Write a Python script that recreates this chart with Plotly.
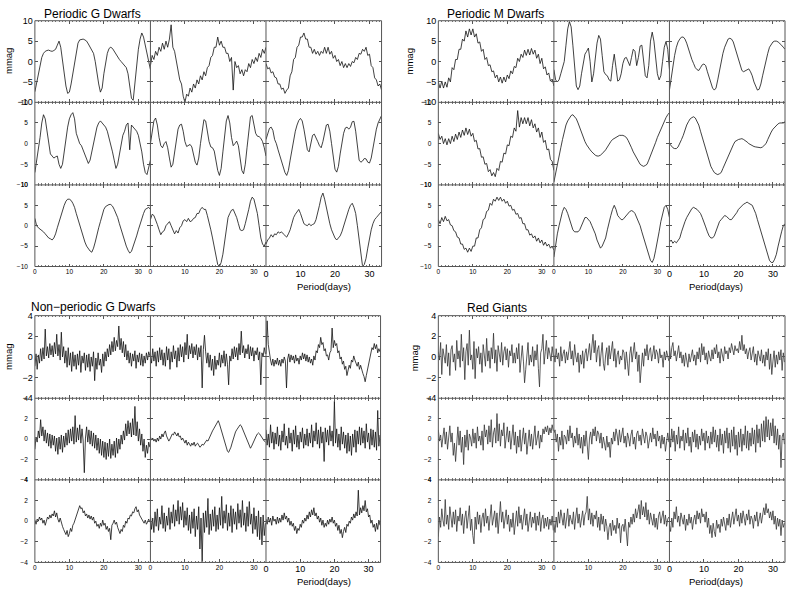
import numpy as np
import plotly.graph_objects as go

W, H = 788, 593

# ---------------- data (mmag), periodic panels sampled every 0.5 day ----------------
STEP_P = 0.5
G11 = [-7.4,-5.5,-3,-1,1,2,2.5,2.7,2.8,2.6,2.5,2.7,3,4,5,3.5,0,-3,-6,-7.8,-7.5,-5.5,-3,0,3,4.5,5.3,5.5,5.5,5.3,5,4.3,3.5,3,2,0,-3,-5.5,-7.5,-6.5,-3,0,2,3.2,3.5,3.2,2.5,1.8,1,0.5,0,-0.5,-1,-1.5,-3,-6,-9,-9.5,-5,-1,3,5.5,7,6,4,2,0,-2]
G12 = [-1,1.5,0.5,2.5,1.5,3.5,2.5,4.5,3,5,3.5,5.5,9,3.5,2.5,0,-1.5,-4.5,-5.5,-8.5,-10,-8,-8.5,-6.5,-7.5,-5.5,-6.5,-4.5,-5.5,-3.5,-4.5,-2.5,-3.5,-1.5,-1,1,1.5,3.5,3.5,6,4,5,3.5,3.5,2,2,0,1,-7,0,-1.5,-1,-3,-2,-3.5,-2,-2.5,-0.5,-1.5,0.5,-0.5,1,0,2,1,3,2,3.5]
G13 = [-0.5,-1.8,-1.5,-2.8,-2.5,-3.8,-4,-5.5,-5.5,-6.8,-6.5,-7.8,-7,-6.5,-3.5,-2.5,0.5,1,3.5,4,6,6,7,5.5,5.5,3.5,3.5,2,3,1.8,2.5,1.5,2.5,2,3.5,2,3.5,1.8,2.5,0.8,1.5,0,0.5,-1,0,-1.5,-0.5,-1.5,-0.5,-1.2,0,-0.3,1,0.5,2,1.8,3,2.5,3.5,1.5,1.8,-1,-1.5,-4,-4.5,-6,-5.5,-7]
G21 = [-7,-4.5,-2,1.5,5,7,6,3,0,-2.5,-3,-3.5,-3.2,-3,-5,-6,-5,-1.5,2,4,6,7,7.5,6,2.5,1,0,-0.5,-1.5,-2.5,-3.5,-4.8,-4,-2,0,2,4,5,5.5,5,4.5,4,3,1.5,0,-2,-4,-6,-5,-2.5,0,2,3,4.5,5,-1.5,4.5,4,3.5,3,2,0,-2,-5,-7,-7.5,-6,-4]
G22 = [0,3,5.5,6.2,4.5,1.5,-0.5,-1,0,0.5,-1,-3.5,-5.7,-5,-2,1,3.5,4.5,4.7,3,0.5,-0.7,-0.5,-0.2,-0.8,-2.5,-4.5,-5.2,-3.5,0,3.5,5.8,5.5,3,0.5,-0.8,-1,-1.8,-4,-6.5,-7.7,-6,-2,2,5.5,6.8,5,1.5,-0.5,0,0.6,-0.5,-3.5,-6.5,-7.3,-5,-1,3.5,6.5,6.8,5,2.5,1.8,1.7,1.3,0.5,-1,-3]
G23 = [1,2.5,3.7,4,3.2,1,0,-1.5,-3,-4,-5.5,-7,-7.7,-6.5,-4,-1.5,1,3,4.5,5.6,6.1,5.5,3.5,1,-1.5,-2,0,2,2.3,1.5,0.5,-0.5,-1,0.5,3,4.5,4.7,3,0,-3.5,-6.2,-6.9,-5.5,-2.5,0.5,2.5,3.8,4,3.5,4,5.3,5.4,3,-1,-4,-4.5,-4.2,-3.6,-3.7,-4.5,-4.7,-3.5,-1,1.5,3.5,5,6,6.8]
G31 = [1.8,0,-0.5,-0.8,-1,-1.5,-2,-2.5,-3,-3.2,-3.5,-3,-2,-0.5,1,2.5,4,5,6,6.5,6.5,6.2,5.5,4.5,3,1.5,0,-1.5,-3,-4,-5,-5.7,-6.2,-6.5,-5.5,-4,-2,-0.5,1,2.5,4,4.7,5,5.2,5.2,4.8,4,3,2,0.5,-1,-2.5,-4,-5,-6,-6.7,-6.3,-5.2,-4,-2.5,-1,0.5,2,3,4,4.3,4.5,4]
G32 = [1.5,2.8,2.5,1.5,0.3,-1,-2.2,-1.5,-1.2,0,0.5,1,0,-1,-2,-1.2,-1.8,-0.5,0,1.2,1.5,1,1.8,1,1.2,1.8,2,3,3,4,4.5,4,4,2.5,1,-1,-3,-5.5,-8,-9.5,-10,-9,-7,-3.5,0,2,3,3.8,4,3,2,0.5,-1,-1.2,-1,0.5,2,4,6,7,6.5,5,3,0,-3,-4.5,-5,-4]
G33 = [-4.5,-3.5,-3,-2.2,-2.8,-2,-2.2,-1.5,-1.8,-1.5,-2,-2.5,-2.8,-2,-1,0.5,2,2.8,3.5,4,3,1.5,0.5,0.2,0,0.5,0,0.3,0.5,1.5,3,5,7,8,6.5,4.5,2,0.5,-1,-2,-3,-3.5,-3,-2.5,-1.5,0,1,2.5,4,5,5.5,4.5,3,0,-3,-6.5,-10,-9.5,-8,-5.5,-3,-1,0.5,1.5,2,2.5,3,3.5]

M11 = [-5,-6.5,-4.8,-6.5,-5,-6.3,-4,-5,-1.5,-2,0.5,0.5,3,3,5.5,5,7.5,6,8,6.5,8,6,6.8,4.5,4.8,2.5,3,0.5,1,-1,-0.8,-2.5,-2.3,-4,-3.3,-5,-3.8,-5.3,-3.8,-5,-3.3,-4.2,-2.3,-3,-1.2,-1.5,0.8,0,1.8,1,2.8,1.5,3,1.6,3.2,1.8,2.8,0.8,1.8,-0.5,0.8,-1.8,-1.3,-3.3,-2.8,-4.8,-4.3,-6]
M12 = [-2,-4.5,-5,-4.5,-3,-1.5,0,4,8,9.8,8.5,4,-2,-6,-6.9,-6,-3,0,1.8,2.5,3.3,0,-5,-3,1,4.5,6.4,5.5,1.5,-2.5,-3.2,-3.5,-4.5,-4.8,-1,1.8,-1.5,-4.8,-4.5,-3,-0.5,0.8,1,0,-1,1,3,2.5,-1,1,3.8,4,0.5,-3.5,-4,-1,5,7.2,5,0.5,-3,-4.5,-3.5,0,3.5,4.9,3,-2]
M13 = [-7,-4,-1,1.5,3.5,4.8,5.5,6,6,5.5,4.5,3,1.5,0.5,-0.5,-1.5,-2,-2.2,-1.5,-0.8,-0.6,-1,-2.5,-4,-5.5,-6.5,-7,-6.5,-4.5,-2,0,2,3.5,4.8,5.5,5.7,5.5,4.8,3.5,2,0.5,-1,-2.2,-2.5,-2.2,-2,-1.8,-2.5,-3.5,-5,-6.3,-7,-6.8,-5.5,-3.5,-1.5,0.5,2,3.5,4.3,4.8,5,5,4.8,4.5,4,3.5,3]
M21 = [2.5,1,1.8,0,1.2,-0.3,1.2,0,1.8,0.5,2.3,1,2.8,1.5,3.3,2,3.8,2.2,3.5,1.8,2.5,0.5,0.8,-1.3,-1.2,-3.3,-3.2,-5,-4.8,-6.8,-6.3,-7.8,-7,-8,-6,-6.5,-4.3,-4.5,-2.3,-2.5,-0.3,-0.5,1.8,1.5,3.8,3,8,4,6.3,4.8,6.3,4.8,6.3,4.3,5.8,3.8,4.8,2.8,3.8,1.5,2.8,0.3,0.8,-1.5,-1.3,-3.8,-4.3,-6.5]
M22 = [-9.3,-7,-5,-3,-1,1,3,4.5,5.5,6.3,6.8,7,6.5,6,5,3.8,2.5,1.5,0.5,-0.3,-1,-1.5,-2,-2.5,-2.8,-3,-3,-2.8,-2.5,-2,-1.5,-0.8,0,0.5,1,1.3,1.5,1.8,2,2,2,1.8,1.5,0.8,0,-1,-2,-2.8,-3.5,-4.3,-5,-5.3,-5.5,-5.3,-5,-4,-3,-2,-1,0.3,1.5,2.5,3.5,4.5,5.5,6.3,7,7.5]
M23 = [0,-0.5,-1,-1.2,-1.2,-0.8,0,1,2,3.3,4.5,5.3,6,6.3,6.5,6.2,5.5,4.5,3,1.5,0,-1.5,-3,-4.3,-5.5,-6.3,-7,-7.3,-7.5,-7.3,-7,-6,-5,-4,-3,-2,-1,-0.3,0.5,0.8,1,1.1,1.2,1,0.8,0.4,0,-0.3,-0.5,-0.7,-0.8,-0.9,-1,-1,-0.8,-0.5,0,1,2,2.8,3.5,4,4.5,4.8,5,5,5,5.3]
M31 = [1.5,0.5,2,1,2.3,1.2,1.5,0.2,0,-1.2,-1.5,-2.8,-3,-4.5,-4.5,-5.8,-5.5,-6.5,-5.5,-6.3,-5,-5,-3,-3,-1,-0.5,1.5,1.8,3.5,3.8,5.5,5,6.5,6,7,6.2,7,6,6.5,5.5,6,4.8,5,3.8,4,2.8,3,1.8,2,0.5,0.5,-1,-1,-2.3,-2,-3,-2.5,-3.8,-3,-4.2,-3.5,-4.8,-4,-5,-4.5,-5.5,-5,-6]
M32 = [-7.7,-4.5,-2,0,2,3.5,4.5,4,3,1.5,0,-1,-1.5,-1.5,-1.5,-1,0,1,2,2,1.5,1,0,-1,-2,-3.5,-4.5,-5.5,-5,-4,-3,-1,1,2.5,4,5,4,2.5,2,1.5,1.5,2,2.5,3,3.5,3.7,3.5,3,2,1,0,-1.5,-3,-4.5,-6,-7.5,-8.5,-9,-8,-6,-4,-1.5,1,3,4.5,5,4,2]
M33 = [-4,-3.5,-4.3,-3.8,-4.2,-3.5,-3,-1.5,0,1,2,2.8,3.5,4.2,4.5,4.3,4,3.5,3,2,1,-0.3,-1.5,-2.5,-3,-3,-2.5,-1.2,0,1,1.5,2,2.5,2.3,2,1.5,1.5,2,2.5,3.2,4,4.5,5,5.3,5.5,5.8,5.5,5.3,5,4,3,1.5,0,-1.5,-3,-4.5,-6,-7.5,-8.5,-9,-9,-8.2,-7,-5,-3,-1.5,0,0.5]

# ---------------- noisy panels sampled every 1/3 day ----------------
STEP_N = 1.0 / 3.0
NG11 = [-0.9,0.3,-1.2,0.2,-0.6,0.8,-0.4,0.9,-0.2,2.7,0.1,1.0,-0.1,1.3,0.2,1.1,0.0,1.4,0.3,2.2,0.1,1.2,-0.3,2.4,0.0,1.0,-0.6,0.6,-1.0,0.9,-0.8,0.4,-1.4,0.5,-0.9,0.2,-1.2,0.3,-0.8,0.6,-1.5,0.1,-0.6,0.4,-1.3,0.2,-1.0,0.3,-1.4,0.0,-0.9,0.5,-2.3,-0.1,-1.2,0.4,-0.8,-0.2,-1.5,0.3,-0.9,0.5,-0.4,0.8,0.0,1.2,0.2,1.5,0.5,1.9,0.6,1.6,1.0,3.0,0.7,1.8,0.4,1.5,0.0,1.2,-0.3,0.6,-0.6,0.4,-0.9,0.3,-0.4,0.6,-1.1,0.2,-0.5,0.4,-0.8,0.3,-0.9,0.1,-0.6,0.4,-0.3,0.5,0.1]
NG12 = [0.2,-0.6,0.8,-0.4,0.5,-0.9,0.6,-0.5,0.9,-0.3,0.7,-0.8,0.4,-0.9,1.0,-0.3,0.8,-1.2,0.5,-0.5,1.1,-0.2,0.6,-1.0,0.9,-0.4,1.2,0.0,1.0,-0.5,1.4,0.2,2.2,-0.2,1.1,0.3,1.3,-0.1,1.0,0.2,1.2,-0.3,0.9,0.0,1.1,-3.0,0.7,2.1,0.5,-0.6,0.4,-1.0,0.2,-1.3,-0.2,-1.8,0.1,-1.2,-0.3,-0.8,0.4,-1.0,0.2,-0.6,0.6,-0.9,0.3,-0.7,-2.7,0.1,-0.4,0.8,-0.2,1.0,0.0,0.9,-0.3,1.3,0.2,2.5,0.4,1.1,-0.1,0.8,0.3,1.2,-0.2,1.0,0.1,0.9,-0.4,0.6,0.2,0.9,-0.3,0.5,-2.7,0.4,0.0,0.9,0.3]
NG13 = [0.3,3.5,1.2,0.2,-0.3,-0.8,-0.2,-0.9,-0.3,-0.7,-0.1,-0.8,-0.3,-0.9,-0.2,-0.6,0.0,-0.4,-3.0,-0.2,0.3,-0.5,0.2,-0.3,0.1,-0.6,0.2,-0.4,-0.1,-0.7,0.1,-0.3,0.4,-0.2,0.3,-0.4,0.2,-0.5,0.0,-0.6,-0.2,-0.8,0.1,-0.3,0.6,0.4,1.2,0.9,1.9,1.2,1.4,0.6,0.8,0.1,0.2,-0.3,0.4,0.6,2.8,0.9,1.6,1.1,1.3,0.4,0.6,-0.2,0.0,-0.7,-0.4,-1.2,-0.9,-1.8,-1.3,-0.8,-1.1,-0.3,-0.5,0.1,-0.3,-0.6,-0.9,-0.5,-1.2,-0.8,-1.3,-1.6,-1.9,-2.4,-1.8,-1.2,-0.6,0.1,0.3,0.9,0.7,1.3,0.8,1.2,0.4,0.8,0.5]
NG21 = [-1.0,0.2,-0.3,0.8,0.1,1.9,0.3,1.2,-0.2,0.9,-0.4,0.6,-0.7,0.5,-0.9,0.4,-0.6,0.3,-1.2,0.1,-1.5,0.2,-1.0,0.4,-1.3,0.3,-0.8,0.6,-0.6,0.9,-0.4,1.0,-0.2,1.2,-0.5,2.3,-0.3,1.1,-0.1,1.4,-0.4,1.0,-0.2,-3.3,0.1,1.2,-0.3,0.9,-0.5,0.8,-0.7,0.6,-0.9,0.4,-1.1,0.1,-1.4,0.0,-1.6,-0.2,-1.8,-0.3,-2.0,-0.4,-1.7,0.0,-1.9,-0.5,-1.6,-0.2,-1.8,0.1,-1.4,0.0,-1.0,0.4,-0.5,0.8,-0.1,1.5,0.3,1.8,0.5,1.6,0.2,2.0,0.4,3.2,0.3,1.7,-0.2,1.0,-0.6,0.5,-1.2,0.0,-1.8,-0.6,-1.4,-0.3,-0.8]
NG22 = [0.2,-0.1,0.1,-0.2,0.0,-0.3,0.1,-0.2,0.3,0.0,0.5,0.2,0.6,0.8,0.3,0.1,-0.2,0.0,0.3,0.5,0.4,0.7,0.5,0.3,0.6,0.2,0.3,-0.1,0.1,-0.2,-0.4,-0.1,-0.6,-0.3,-0.5,-0.7,-0.4,-0.6,-0.3,-0.7,-0.5,-0.4,-0.6,-0.8,-0.7,-0.5,-0.6,-0.4,-0.3,-0.1,-0.2,0.1,0.3,0.5,0.8,1.0,1.2,1.5,1.6,1.8,1.5,1.1,0.6,0.2,-0.2,-0.6,-0.9,-1.2,-1.3,-1.1,-0.8,-0.4,0.0,0.4,0.7,0.9,1.1,1.3,1.4,1.3,1.0,0.7,0.4,0.1,-0.2,-0.5,-0.8,-0.9,-0.7,-0.4,-0.1,0.1,0.3,0.5,0.6,0.5,0.3,0.2,0.0,-0.2,-0.3]
NG23 = [0.9,-0.6,0.5,-0.8,1.4,-0.4,0.7,-1.0,0.6,-0.5,1.2,-0.7,0.4,-1.1,0.8,-0.3,1.5,-0.6,0.3,-0.9,1.1,-0.4,0.6,-1.2,0.9,-0.5,1.3,-0.8,0.4,-1.0,0.7,-0.3,1.1,-0.9,0.5,-0.6,1.0,-0.7,0.6,-0.4,1.4,-0.8,0.8,-0.2,1.6,-0.5,0.9,-0.9,1.2,-0.4,0.7,-2.2,1.1,-0.3,0.9,-0.6,1.3,-0.2,0.8,-0.7,3.7,-0.4,1.0,-0.8,0.5,-1.1,1.2,-0.5,0.7,-0.9,0.4,-1.4,0.6,-1.2,0.3,-1.6,0.5,-0.8,0.9,-1.3,0.8,-0.5,1.2,-0.6,1.1,-0.4,0.8,-0.9,1.5,-0.3,0.6,-1.0,1.0,-0.6,0.9,-0.8,0.7,-1.1,2.8,-0.7,0.4]
NG31 = [0.1,-0.3,0.2,0.0,0.4,0.1,0.3,-0.2,0.1,-0.4,0.0,0.4,0.2,0.6,0.3,0.7,0.5,1.0,0.4,0.8,0.2,-0.1,0.3,-0.2,-0.5,-0.8,-1.0,-1.3,-0.9,-1.5,-1.2,-0.7,-1.0,-0.4,-0.2,0.1,0.4,0.9,1.1,1.5,1.2,1.3,0.8,1.0,0.5,0.7,0.3,0.6,0.2,0.5,0.1,0.4,-0.2,0.0,-0.5,-0.3,-0.7,-0.2,-0.5,0.1,-0.4,-0.2,-0.8,-0.5,-1.0,-0.7,-1.8,-0.4,-0.2,0.1,-0.3,-0.1,-0.6,-0.9,-1.2,-0.8,-1.0,-0.4,-0.6,0.0,-0.2,0.3,0.2,0.6,0.5,0.9,0.8,1.2,1.4,0.9,1.1,0.6,0.4,0.2,0.0,-0.2,0.1,-0.3,-0.1,0.2,-0.1]
NG32 = [0.6,-0.8,0.3,-1.1,0.9,-0.5,1.2,-0.9,0.4,-0.3,1.5,-0.7,0.8,-1.0,0.5,-0.4,1.3,-0.8,0.9,-0.2,1.6,-0.5,1.1,0.0,2.0,-0.3,1.4,0.1,1.8,-0.6,1.0,-0.4,1.3,-0.9,0.6,-1.2,0.9,-0.7,1.2,-1.5,0.5,-0.8,1.4,-2.7,0.3,-4.0,0.8,-1.1,1.0,-0.6,2.2,-1.3,0.7,-0.9,1.1,-0.5,1.4,-1.0,0.6,-0.8,1.3,-0.4,2.4,-0.7,1.0,-0.2,1.6,-0.9,0.8,-0.5,1.5,-1.1,1.2,-0.3,0.9,-0.8,1.7,-0.2,1.1,-0.6,2.0,-0.4,0.8,-1.0,1.4,-0.5,1.9,-0.3,0.7,-1.2,1.3,-0.8,0.5,-1.5,1.0,-1.8,0.4,-2.3,0.6,-1.4,-0.2]
NG33 = [0.2,-0.3,0.4,-0.1,0.3,-0.4,0.5,0.0,0.2,-0.3,0.4,-0.2,0.3,-0.1,0.6,0.1,0.8,0.2,0.5,-0.1,0.3,-0.4,0.0,-0.5,-0.2,-0.9,-0.5,-1.2,-0.7,-0.9,-0.3,-0.6,0.1,-0.2,0.3,0.0,0.6,0.2,0.9,0.4,1.1,0.6,1.3,0.5,0.8,0.2,0.5,-0.1,0.3,-0.4,0.1,-0.6,-0.2,-0.5,0.1,-0.3,0.2,-0.1,0.4,-0.2,0.1,-0.5,-0.2,-0.9,-0.4,-1.2,-0.8,-1.6,-1.0,-0.6,-1.1,-0.3,-0.5,0.0,-0.2,0.4,0.1,0.7,0.3,0.9,0.5,3.0,0.6,1.3,0.8,1.5,1.0,2.0,0.9,1.2,0.4,0.6,-0.2,0.1,-0.6,-0.3,-1.0,-0.2,-0.8,0.1,-0.4]

RG11 = [0.5,-0.3,1.4,-1.7,0.8,0.1,-0.6,1.2,-0.9,0.4,-1.8,0.7,1.1,-0.5,0.3,-1.3,1.6,-0.2,0.6,-1.0,2.2,-0.4,0.9,-2.2,0.5,1.3,-0.8,2.6,-0.3,0.2,-1.2,1.5,-2.1,0.8,-0.1,1.0,-0.7,0.4,-1.5,1.2,0.0,-0.9,1.8,-0.4,0.6,-1.1,0.9,-0.2,2.3,-0.6,0.7,-1.4,1.1,0.2,-0.5,1.4,-0.8,0.5,1.0,-0.3,0.8,-1.0,0.6,0.1,1.2,-0.6,0.4,-0.6,0.9,-0.2,1.3,-1.5,0.3,1.1,-0.4,-2.5,-1.2,0.5,1.4,-0.8,0.2,-0.5,1.0,-0.9,0.6,-0.3,1.2,-1.1,-2.9,0.4,0.8,2.2,-0.7,0.5,1.6,-0.2,0.9,0.3,-0.4,1.0,0.1]
RG12 = [0.2,-0.5,0.8,-0.2,0.4,-0.9,1.0,-0.4,0.3,0.7,-0.6,0.5,-0.3,0.9,1.5,-0.2,0.6,-0.8,1.2,0.1,-0.5,0.4,-1.5,0.2,-0.7,0.6,-1.1,0.3,0.8,-0.4,0.5,1.3,-0.3,1.0,2.2,0.4,1.6,-0.5,0.7,1.1,-0.9,0.3,1.4,-0.6,-1.3,0.2,0.9,-0.8,1.1,-0.2,0.5,1.5,-0.4,0.8,-1.0,0.2,0.6,-0.7,0.1,-0.3,0.7,0.4,-1.2,0.5,-0.6,-1.8,0.3,1.0,-0.5,0.6,1.4,-0.2,0.5,-1.4,0.2,-2.5,-0.6,0.4,-0.9,0.8,0.1,1.2,-0.3,0.6,0.9,-0.4,0.3,1.1,-0.2,0.7,0.4,-0.6,0.8,-0.1,0.2,-1.0,0.5,-0.3,0.6,0.1,-0.4]
RG13 = [1.2,-0.2,0.9,1.4,0.1,0.6,-0.4,0.3,1.1,-0.1,0.5,-0.6,0.2,-0.9,0.4,-0.3,-1.0,0.3,-0.5,0.1,0.7,-0.4,0.2,-0.8,0.5,-0.2,0.9,-0.5,1.3,0.2,1.0,-0.3,0.4,-0.7,0.6,0.0,-0.4,0.7,-0.2,0.9,0.3,1.2,-0.1,0.5,-0.6,0.8,0.2,-0.4,1.0,0.3,0.6,-0.2,0.9,0.4,1.3,0.5,0.2,1.1,0.6,0.8,0.4,1.5,0.7,2.1,0.6,1.2,0.3,0.8,-0.2,0.5,0.9,-0.3,0.4,1.0,-0.5,0.3,-0.8,0.6,0.1,-0.4,0.7,-0.6,0.2,-0.9,0.5,-0.3,0.8,-1.2,0.3,-1.7,-0.4,0.6,-1.0,0.2,-0.7,0.5,-0.3,0.7,-1.3,0.4,-0.5]
RG21 = [0.9,-0.2,0.4,-0.8,0.2,1.1,-0.5,0.7,-1.0,0.5,1.3,-0.3,0.6,-1.6,-0.4,-2.2,0.3,1.2,-0.6,0.8,-1.3,0.2,-2.5,0.4,-0.8,0.9,-1.1,0.5,0.1,-0.7,1.0,-0.4,0.6,-0.9,1.2,-0.2,0.3,-0.6,0.8,-1.1,1.4,0.2,0.9,-0.5,1.3,-0.3,1.9,-0.8,0.6,1.1,-0.4,2.5,-0.2,1.5,-0.7,0.9,0.3,1.6,-0.9,0.5,1.2,-0.3,0.8,-1.0,0.2,1.4,-0.6,0.7,-1.4,0.3,-0.8,0.9,-1.2,0.4,1.1,-0.5,0.6,-1.5,0.2,0.9,-0.7,0.5,-1.0,0.3,1.3,-0.6,0.2,0.8,-0.9,0.4,-0.3,1.0,0.5,1.2,0.7,1.3,0.4,1.1,0.6,1.4,0.8]
RG22 = [0.6,0.9,-0.3,0.5,-1.2,0.2,-0.6,0.8,-1.0,0.4,0.2,-0.5,0.9,-0.2,1.3,0.1,0.6,-0.8,0.3,-0.4,1.1,-0.6,0.5,-0.9,0.2,-1.4,0.4,-0.7,0.8,-0.3,-2.0,0.1,0.7,-0.5,1.0,0.3,1.2,-0.2,0.8,0.5,-0.4,0.6,-0.9,0.2,-0.6,-1.1,0.3,-0.8,-0.3,-1.8,0.1,-0.5,0.7,-0.2,1.0,0.4,-0.6,0.9,-0.3,0.5,1.1,-0.4,0.3,-0.8,0.6,0.1,-0.7,0.4,0.9,-0.5,0.2,-1.0,0.5,0.8,-0.2,0.4,-0.6,1.0,0.1,-0.4,0.7,0.3,-0.9,0.2,0.6,-0.3,1.1,0.0,0.5,-0.7,0.8,-0.2,0.3,-0.9,0.4,-0.5,0.2,-1.2,0.1,0.6,-0.3]
RG23 = [0.5,-0.8,1.0,-0.3,0.8,-1.2,0.4,-0.5,1.2,-0.9,0.3,-0.2,0.9,-1.1,0.6,-0.4,1.1,-0.7,0.2,-1.3,0.7,-0.3,0.9,-0.8,0.5,-1.0,0.3,-0.6,1.0,-0.2,0.6,-1.1,0.8,-0.4,0.3,-0.9,0.7,-0.5,1.2,-0.3,0.9,-0.8,0.4,-1.2,1.0,-0.6,0.5,-1.4,0.8,-0.4,1.1,-0.9,0.6,-1.3,0.9,-0.7,1.2,-1.0,0.4,-1.6,0.7,-0.8,1.0,-1.2,0.5,-0.6,1.3,-0.9,0.8,-1.1,0.6,-0.7,1.1,-0.5,0.9,-1.3,1.4,-0.4,1.0,-0.8,1.5,-0.2,1.8,-0.3,2.2,0.2,1.9,-0.1,1.6,0.3,2.0,-0.4,1.3,-0.6,1.0,-1.0,0.4,-2.8,0.2,0.6,-0.5]
RG31 = [-1.5,0.4,-0.6,1.2,0.1,-0.5,2.1,-0.3,0.6,-0.8,1.4,0.2,-0.6,0.9,-0.3,1.1,-1.0,0.5,0.0,1.3,-0.4,0.7,-1.2,0.3,1.0,-0.7,0.5,1.5,-0.9,0.2,-1.4,-2.2,0.4,-0.8,0.9,-0.3,0.6,-1.1,0.3,0.8,-0.5,1.2,-0.2,0.5,-0.9,0.7,1.6,-0.4,0.3,1.0,-0.6,0.8,-1.2,0.4,1.9,-0.1,0.9,-0.7,0.5,1.1,-0.3,0.6,-1.0,0.2,-0.6,0.8,-1.3,0.4,1.0,-0.5,1.4,-0.2,0.6,-0.8,0.3,1.2,-0.4,0.7,-1.0,0.1,0.9,-0.6,0.4,-0.2,0.8,-0.9,0.5,-0.4,0.9,-1.0,0.2,0.6,-0.7,0.3,-0.5,0.4,-0.8,0.2,-0.4,0.5,-0.9]
RG32 = [-0.3,-1.1,0.4,-0.6,0.9,-0.2,1.1,0.3,-0.4,0.8,-0.7,0.2,1.2,-0.5,0.6,0.1,-0.3,0.9,-0.8,0.4,1.3,-0.2,0.7,-0.6,0.5,1.0,-0.4,0.6,0.9,2.4,0.1,1.2,-0.3,0.8,-0.5,0.6,0.2,1.0,-0.6,0.4,-0.9,0.7,-0.3,0.5,-1.0,0.2,-0.5,-1.8,-0.6,-0.2,-1.4,0.1,-0.9,-0.4,-1.2,0.3,-0.7,-0.2,-2.1,-0.5,-0.3,-1.0,0.2,-0.8,-2.4,-0.1,-0.6,0.4,-0.3,0.7,-0.1,1.2,0.3,0.9,1.6,0.2,2.0,0.6,1.4,0.4,1.8,0.1,1.1,-0.3,0.8,0.2,-0.4,0.7,-0.6,0.3,-0.8,0.5,0.9,-0.2,0.4,1.0,-0.3,0.6,-0.5,0.2,0.4]
RG33 = [-0.4,-1.0,0.3,-0.6,0.9,0.2,1.4,-0.1,0.5,-0.5,0.8,0.1,-0.3,0.6,-0.9,0.2,-0.4,0.7,-0.2,0.4,-0.8,0.1,0.6,-0.3,1.0,0.2,0.8,-0.2,1.2,0.4,0.7,-0.1,0.9,-0.6,0.3,-1.2,-0.4,-1.6,-0.2,-1.0,-1.5,0.1,-0.7,-0.3,-1.1,0.2,-0.5,0.4,-0.2,-0.9,0.3,-0.4,0.7,-0.6,0.2,0.9,-0.3,0.5,1.2,0.0,0.6,-0.5,0.8,-0.2,1.0,0.3,-0.4,0.7,0.1,1.1,-0.3,0.5,0.2,-0.7,0.6,0.0,0.9,-0.5,0.3,0.8,-0.2,0.4,1.3,0.6,1.7,0.8,1.2,0.3,0.9,0.1,1.0,-0.3,0.5,-0.8,0.3,-0.5,0.2,-1.4,0.1,-0.6,-0.2]

# ---------------- groups ----------------
GROUPS = [
    dict(title="Periodic G Dwarfs", panels=[[G11, G12, G13], [G21, G22, G23], [G31, G32, G33]],
         step=STEP_P, ylim=10, ydt=5, cols=[32, 148, 264, 380], rows=[16, 99, 183, 266],
         tpos=(39, 9), mpos=(5, 57), ppos=(322, 286), color="#111111", width=0.8),
    dict(title="Periodic M Dwarfs", panels=[[M11, M12, M13], [M21, M22, M23], [M31, M32, M33]],
         step=STEP_P, ylim=10, ydt=5, cols=[437, 553, 669, 785], rows=[16, 99, 183, 266],
         tpos=(444, 9), mpos=(408, 57), ppos=(716, 286), color="#111111", width=0.8),
    dict(title="Non\u2212periodic G Dwarfs", panels=[[NG11, NG12, NG13], [NG21, NG22, NG23], [NG31, NG32, NG33]],
         step=STEP_N, ylim=4, ydt=2, cols=[32, 148, 264, 379], rows=[316, 400, 483, 567],
         tpos=(26, 307), mpos=(6, 358), ppos=(322, 586), color="#111111", width=0.8),
    dict(title="Red Giants", panels=[[RG11, RG12, RG13], [RG21, RG22, RG23], [RG31, RG32, RG33]],
         step=STEP_N, ylim=4, ydt=2, cols=[437, 553, 669, 785], rows=[316, 400, 483, 567],
         tpos=(464, 308), mpos=(414, 359), ppos=(716, 586), color="#333333", width=0.8),
]

FONT = "Arial, Liberation Sans, Helvetica, sans-serif"
XMAX = 33.5

fig = go.Figure()
layout = dict(width=W, height=H, margin=dict(l=0, r=0, t=0, b=0), autosize=False,
              paper_bgcolor="white", plot_bgcolor="white", showlegend=False)
annotations = []
shapes = []

k = 0
for g in GROUPS:
    for r in range(3):
        for c in range(3):
            k += 1
            sfx = "" if k == 1 else str(k)
            y = np.array(g["panels"][r][c], dtype=float)
            x = np.arange(len(y)) * g["step"]
            fig.add_trace(go.Scatter(x=x, y=y, mode="lines", xaxis="x" + sfx, yaxis="y" + sfx,
                                     line=dict(color=g["color"], width=g["width"]),
                                     hoverinfo="skip"))
            x0, x1 = g["cols"][c], g["cols"][c + 1]
            t0, t1 = g["rows"][r], g["rows"][r + 1]
            big_y = (r == 0)
            big_x = (c == 2)
            common = dict(showline=False, mirror="ticks",
                          ticks="inside", tickcolor="#555555", ticklen=3, tickwidth=0.7,
                          showgrid=False, zeroline=False, fixedrange=True)
            layout["xaxis" + sfx] = dict(
                domain=[x0 / W, x1 / W], anchor="y" + sfx, range=[0, XMAX],
                tickmode="array", tickvals=[0, 10, 20, 30], ticktext=["0", "10", "20", "30"],
                showticklabels=(r == 2),
                tickfont=dict(family=FONT, size=(9 if big_x else 6.5), color="black"),
                minor=dict(ticks="inside", dtick=1, tick0=0, ticklen=1.5, tickcolor="#777777", tickwidth=0.6),
                **common)
            yv = list(np.arange(-g["ylim"], g["ylim"] + 0.01, g["ydt"]))
            layout["yaxis" + sfx] = dict(
                domain=[1 - t1 / H, 1 - t0 / H], anchor="x" + sfx, range=[-g["ylim"], g["ylim"]],
                tickmode="array", tickvals=yv, ticktext=[("\u2212" if v < 0 else "") + str(int(abs(v))) for v in yv],
                showticklabels=(c == 0),
                ticklabelstandoff=(1 if big_y else 6),
                tickfont=dict(family=FONT, size=(9 if big_y else 6.5), color="black"),
                **common)
    # single frame lines for each group (one line per boundary)
    for cx in g["cols"]:
        shapes.append(dict(type="line", xref="paper", yref="paper",
                           x0=cx / W, x1=cx / W, y0=1 - g["rows"][3] / H, y1=1 - g["rows"][0] / H,
                           line=dict(color="#555555", width=1), layer="above"))
    for ry in g["rows"]:
        shapes.append(dict(type="line", xref="paper", yref="paper",
                           x0=g["cols"][0] / W, x1=g["cols"][3] / W, y0=1 - ry / H, y1=1 - ry / H,
                           line=dict(color="#555555", width=1), layer="above"))
    annotations.append(dict(text=g["title"], x=g["tpos"][0] / W, y=1 - g["tpos"][1] / H,
                            xref="paper", yref="paper", xanchor="left", yanchor="middle",
                            showarrow=False, font=dict(family=FONT, size=12, color="black")))
    annotations.append(dict(text="mmag", x=g["mpos"][0] / W, y=1 - g["mpos"][1] / H,
                            xref="paper", yref="paper", xanchor="center", yanchor="middle",
                            textangle=-90, showarrow=False, font=dict(family=FONT, size=9.5, color="black")))
    annotations.append(dict(text="Period(days)", x=g["ppos"][0] / W, y=1 - g["ppos"][1] / H,
                            xref="paper", yref="paper", xanchor="center", yanchor="middle",
                            showarrow=False, font=dict(family=FONT, size=9.5, color="black")))

layout["annotations"] = annotations
layout["shapes"] = shapes
fig.update_layout(**layout)
fig.write_html("out.html", config={"displayModeBar": False},
               post_script="document.body.style.margin='0';document.body.style.padding='0';document.body.style.overflow='hidden';")
